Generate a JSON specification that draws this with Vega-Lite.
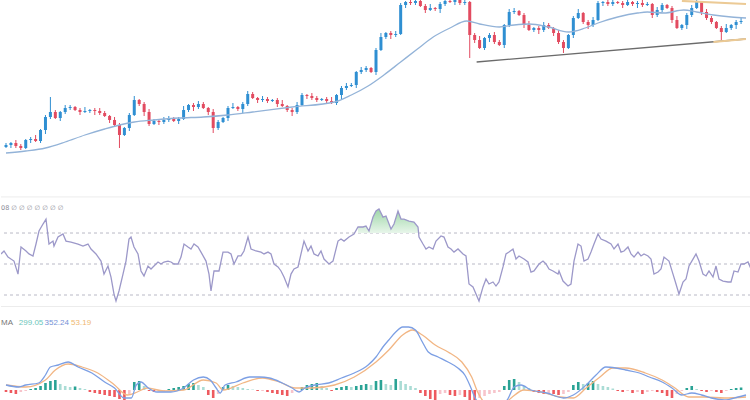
{
"$schema": "https://vega.github.io/schema/vega-lite/v6.json",
"padding": 0,
"spacing": 0,
"config": {"view": {"stroke": null}, "axis": {"disable": true}, "legend": {"disable": true}, "concat": {"spacing": 0}},
"datasets": {
"candles": [
{"t":0,"o":53,"h":57,"l":52,"c":55},{"t":1,"o":55,"h":58,"l":52,"c":57},{"t":2,"o":57,"h":60,"l":52,"c":54},{"t":3,"o":54,"h":56,"l":50,"c":52},{"t":4,"o":52,"h":61,"l":51,"c":60},
{"t":5,"o":60,"h":63,"l":57,"c":61},{"t":6,"o":61,"h":65,"l":58,"c":59},{"t":7,"o":59,"h":71,"l":57,"c":70},{"t":8,"o":70,"h":85,"l":66,"c":83},{"t":9,"o":83,"h":103,"l":81,"c":88},
{"t":10,"o":88,"h":90,"l":81,"c":82},{"t":11,"o":82,"h":89,"l":79,"c":88},{"t":12,"o":88,"h":95,"l":86,"c":92},{"t":13,"o":92,"h":95,"l":90,"c":93},{"t":14,"o":93,"h":94,"l":89,"c":90},
{"t":15,"o":90,"h":92,"l":85,"c":88},{"t":16,"o":88,"h":93,"l":87,"c":89},{"t":17,"o":89,"h":91,"l":87,"c":90},{"t":18,"o":90,"h":92,"l":85,"c":89},{"t":19,"o":89,"h":92,"l":85,"c":87},
{"t":20,"o":87,"h":89,"l":83,"c":84},{"t":21,"o":84,"h":85,"l":77,"c":80},{"t":22,"o":80,"h":83,"l":73,"c":75},{"t":23,"o":75,"h":77,"l":52,"c":65},{"t":24,"o":65,"h":73,"l":64,"c":72},
{"t":25,"o":72,"h":87,"l":69,"c":85},{"t":26,"o":85,"h":104,"l":84,"c":100},{"t":27,"o":100,"h":101,"l":94,"c":96},{"t":28,"o":96,"h":98,"l":84,"c":88},{"t":29,"o":88,"h":91,"l":74,"c":76},
{"t":30,"o":76,"h":81,"l":75,"c":79},{"t":31,"o":79,"h":80,"l":75,"c":78},{"t":32,"o":78,"h":83,"l":76,"c":80},{"t":33,"o":80,"h":84,"l":78,"c":82},{"t":34,"o":82,"h":83,"l":78,"c":79},
{"t":35,"o":79,"h":83,"l":76,"c":81},{"t":36,"o":81,"h":94,"l":80,"c":90},{"t":37,"o":90,"h":96,"l":88,"c":95},{"t":38,"o":95,"h":97,"l":89,"c":93},{"t":39,"o":93,"h":99,"l":91,"c":96},
{"t":40,"o":96,"h":98,"l":91,"c":92},{"t":41,"o":92,"h":93,"l":85,"c":88},{"t":42,"o":88,"h":91,"l":67,"c":72},{"t":43,"o":72,"h":80,"l":70,"c":78},{"t":44,"o":78,"h":83,"l":77,"c":82},
{"t":45,"o":82,"h":94,"l":79,"c":92},{"t":46,"o":92,"h":97,"l":91,"c":93},{"t":47,"o":93,"h":94,"l":89,"c":91},{"t":48,"o":91,"h":98,"l":87,"c":96},{"t":49,"o":96,"h":109,"l":94,"c":106},
{"t":50,"o":106,"h":108,"l":101,"c":102},{"t":51,"o":102,"h":103,"l":97,"c":100},{"t":52,"o":100,"h":104,"l":98,"c":101},{"t":53,"o":101,"h":103,"l":97,"c":99},{"t":54,"o":99,"h":101,"l":98,"c":100},
{"t":55,"o":100,"h":102,"l":93,"c":96},{"t":56,"o":96,"h":100,"l":93,"c":94},{"t":57,"o":94,"h":95,"l":88,"c":90},{"t":58,"o":90,"h":92,"l":84,"c":88},{"t":59,"o":88,"h":98,"l":86,"c":95},
{"t":60,"o":95,"h":107,"l":94,"c":105},{"t":61,"o":105,"h":106,"l":101,"c":104},{"t":62,"o":104,"h":107,"l":100,"c":102},{"t":63,"o":102,"h":104,"l":98,"c":100},{"t":64,"o":100,"h":102,"l":99,"c":101},
{"t":65,"o":101,"h":103,"l":96,"c":99},{"t":66,"o":99,"h":103,"l":96,"c":97},{"t":67,"o":97,"h":106,"l":95,"c":105},{"t":68,"o":105,"h":114,"l":101,"c":112},{"t":69,"o":112,"h":117,"l":110,"c":114},
{"t":70,"o":114,"h":117,"l":113,"c":115},{"t":71,"o":115,"h":129,"l":112,"c":128},{"t":72,"o":128,"h":133,"l":126,"c":130},{"t":73,"o":130,"h":134,"l":128,"c":132},{"t":74,"o":132,"h":133,"l":127,"c":128},
{"t":75,"o":128,"h":152,"l":125,"c":150},{"t":76,"o":150,"h":167,"l":149,"c":163},{"t":77,"o":163,"h":168,"l":161,"c":167},{"t":78,"o":167,"h":169,"l":161,"c":165},{"t":79,"o":165,"h":169,"l":163,"c":166},
{"t":80,"o":166,"h":197,"l":165,"c":195},{"t":81,"o":195,"h":199,"l":192,"c":198},{"t":82,"o":198,"h":201,"l":195,"c":197},{"t":83,"o":197,"h":201,"l":195,"c":199},{"t":84,"o":199,"h":200,"l":193,"c":194},
{"t":85,"o":194,"h":196,"l":187,"c":190},{"t":86,"o":190,"h":196,"l":189,"c":192},{"t":87,"o":192,"h":193,"l":189,"c":191},{"t":88,"o":191,"h":198,"l":187,"c":196},{"t":89,"o":196,"h":202,"l":194,"c":199},
{"t":90,"o":199,"h":201,"l":197,"c":198},{"t":91,"o":198,"h":201,"l":195,"c":200},{"t":92,"o":200,"h":203,"l":195,"c":197},{"t":93,"o":197,"h":200,"l":195,"c":198},{"t":94,"o":198,"h":199,"l":142,"c":165},
{"t":95,"o":165,"h":167,"l":157,"c":160},{"t":96,"o":160,"h":164,"l":151,"c":152},{"t":97,"o":152,"h":163,"l":150,"c":162},{"t":98,"o":162,"h":167,"l":158,"c":165},{"t":99,"o":165,"h":168,"l":156,"c":158},
{"t":100,"o":158,"h":160,"l":154,"c":155},{"t":101,"o":155,"h":176,"l":152,"c":175},{"t":102,"o":175,"h":191,"l":173,"c":188},{"t":103,"o":188,"h":192,"l":186,"c":189},{"t":104,"o":189,"h":190,"l":184,"c":185},
{"t":105,"o":185,"h":187,"l":172,"c":175},{"t":106,"o":175,"h":179,"l":169,"c":170},{"t":107,"o":170,"h":173,"l":168,"c":172},{"t":108,"o":172,"h":174,"l":166,"c":170},{"t":109,"o":170,"h":178,"l":168,"c":175},
{"t":110,"o":175,"h":177,"l":171,"c":172},{"t":111,"o":172,"h":173,"l":164,"c":167},{"t":112,"o":167,"h":170,"l":156,"c":158},{"t":113,"o":158,"h":160,"l":147,"c":152},{"t":114,"o":152,"h":166,"l":151,"c":165},
{"t":115,"o":165,"h":184,"l":162,"c":182},{"t":116,"o":182,"h":191,"l":181,"c":187},{"t":117,"o":187,"h":188,"l":176,"c":178},{"t":118,"o":178,"h":180,"l":171,"c":175},{"t":119,"o":175,"h":183,"l":173,"c":180},
{"t":120,"o":180,"h":199,"l":179,"c":197},{"t":121,"o":197,"h":199,"l":194,"c":198},{"t":122,"o":198,"h":201,"l":194,"c":196},{"t":123,"o":196,"h":200,"l":194,"c":198},{"t":124,"o":198,"h":199,"l":196,"c":197},
{"t":125,"o":197,"h":199,"l":192,"c":195},{"t":126,"o":195,"h":202,"l":194,"c":198},{"t":127,"o":198,"h":199,"l":194,"c":196},{"t":128,"o":196,"h":199,"l":192,"c":197},{"t":129,"o":197,"h":200,"l":193,"c":195},
{"t":130,"o":195,"h":198,"l":194,"c":196},{"t":131,"o":196,"h":197,"l":182,"c":185},{"t":132,"o":185,"h":193,"l":183,"c":190},{"t":133,"o":190,"h":197,"l":188,"c":195},{"t":134,"o":195,"h":196,"l":191,"c":192},
{"t":135,"o":192,"h":194,"l":177,"c":180},{"t":136,"o":180,"h":184,"l":171,"c":172},{"t":137,"o":172,"h":176,"l":170,"c":175},{"t":138,"o":175,"h":187,"l":171,"c":185},{"t":139,"o":185,"h":195,"l":183,"c":192},
{"t":140,"o":192,"h":200,"l":191,"c":198},{"t":141,"o":198,"h":199,"l":185,"c":188},{"t":142,"o":188,"h":191,"l":180,"c":182},{"t":143,"o":182,"h":184,"l":176,"c":178},{"t":144,"o":178,"h":179,"l":171,"c":172},
{"t":145,"o":172,"h":174,"l":160,"c":168},{"t":146,"o":168,"h":176,"l":167,"c":172},{"t":147,"o":172,"h":176,"l":170,"c":175},{"t":148,"o":175,"h":180,"l":171,"c":178},{"t":149,"o":178,"h":182,"l":176,"c":179}
],
"ma": [
{"t":0,"p":47},{"t":4,"p":49},{"t":8,"p":52},{"t":12,"p":58},{"t":16,"p":65},{"t":20,"p":71},{"t":23,"p":75},{"t":26,"p":78},{"t":30,"p":80},{"t":35,"p":82},{"t":40,"p":83},{"t":45,"p":85},{"t":50,"p":88},{"t":58,"p":93},{"t":66.6,"p":98},{"t":70,"p":105},{"t":73.4,"p":114},{"t":76.6,"p":125},{"t":80,"p":138},{"t":83.4,"p":151},{"t":86.6,"p":163},{"t":90,"p":172},{"t":93.4,"p":179},{"t":96,"p":176},{"t":100,"p":173},{"t":103,"p":175},{"t":106,"p":176},{"t":110,"p":173},{"t":114,"p":168},{"t":117.4,"p":172},{"t":120,"p":177},{"t":124,"p":183},{"t":128,"p":187},{"t":130,"p":188},{"t":133.4,"p":187},{"t":137.4,"p":190},{"t":140,"p":188},{"t":143.4,"p":185},{"t":147,"p":183},{"t":150,"p":182}
],
"trend": [
{"line":"support","t":95.4,"p":138},{"line":"support","t":150,"p":161},
{"line":"upper","t":137,"p":199},{"line":"upper","t":150,"p":196},
{"line":"lower","t":143.4,"p":158},{"line":"lower","t":150,"p":161}
],
"rsi": [
{"t":0,"v":56.5},{"t":0.6,"v":58.4},{"t":1.4,"v":54.5},{"t":2.6,"v":51.9},{"t":3.4,"v":43.5},{"t":4,"v":61.0},{"t":5,"v":58.4},{"t":5.6,"v":56.5},{"t":6.4,"v":55.2},{"t":7,"v":62.9},{"t":7.6,"v":71.3},{"t":8.4,"v":75.8},{"t":9,"v":79.0},{"t":9.6,"v":62.9},{"t":10.4,"v":64.8},{"t":10.6,"v":61.6},{"t":11.4,"v":67.4},{"t":12.4,"v":69.4},{"t":13,"v":64.8},{"t":14,"v":64.2},{"t":15.4,"v":62.9},{"t":16.4,"v":61.6},{"t":17.4,"v":62.9},{"t":18,"v":59.7},{"t":19,"v":56.5},{"t":20,"v":51.9},{"t":20.6,"v":43.5},{"t":21.4,"v":48.7},{"t":22,"v":41.6},{"t":22.6,"v":30.6},{"t":23,"v":26.1},{"t":23.6,"v":32.6},{"t":24.4,"v":43.5},{"t":25,"v":51.9},{"t":25.6,"v":66.1},{"t":26,"v":67.4},{"t":26.6,"v":61.0},{"t":27.4,"v":56.5},{"t":28,"v":45.5},{"t":28.6,"v":42.3},{"t":29.4,"v":48.7},{"t":30,"v":46.8},{"t":30.6,"v":48.7},{"t":31.4,"v":51.3},{"t":32,"v":50},{"t":32.6,"v":51.3},{"t":33.4,"v":51.9},{"t":34,"v":51.3},{"t":34.6,"v":50},{"t":35.4,"v":50},{"t":36,"v":54.5},{"t":36.6,"v":62.9},{"t":37.4,"v":61.0},{"t":38,"v":59.7},{"t":38.6,"v":62.9},{"t":39.4,"v":61.0},{"t":40,"v":57.7},{"t":41,"v":51.9},{"t":41.6,"v":43.5},{"t":42,"v":32.6},{"t":42.6,"v":45.5},{"t":43.6,"v":45.5},{"t":44.4,"v":57.7},{"t":45.4,"v":57.7},{"t":46,"v":56.5},{"t":46.6,"v":50},{"t":47.4,"v":55.2},{"t":48,"v":55.2},{"t":48.6,"v":58.4},{"t":49.4,"v":67.4},{"t":50,"v":59.7},{"t":51,"v":58.4},{"t":52,"v":57.7},{"t":52.6,"v":56.5},{"t":53.4,"v":57.7},{"t":54,"v":56.5},{"t":54.6,"v":50},{"t":55.4,"v":48.1},{"t":56,"v":45.5},{"t":56.6,"v":41.6},{"t":57.4,"v":35.2},{"t":58,"v":43.5},{"t":58.6,"v":46.8},{"t":59.4,"v":48.1},{"t":60,"v":56.5},{"t":60.6,"v":64.8},{"t":61.4,"v":58.4},{"t":62,"v":61.6},{"t":62.6,"v":56.5},{"t":63.4,"v":55.2},{"t":64,"v":58.4},{"t":64.6,"v":53.2},{"t":65.6,"v":50},{"t":66.4,"v":51.9},{"t":67.4,"v":64.8},{"t":68,"v":66.1},{"t":68.6,"v":64.8},{"t":69.6,"v":67.4},{"t":70.6,"v":69.4},{"t":71.4,"v":73.9},{"t":72.4,"v":73.9},{"t":73,"v":74.5},{"t":73.6,"v":71.3},{"t":74.4,"v":80.3},{"t":75,"v":84.2},{"t":75.6,"v":85.5},{"t":76.4,"v":80.3},{"t":77,"v":81.0},{"t":78,"v":72.6},{"t":78.6,"v":75.8},{"t":79.4,"v":84.2},{"t":80,"v":79.0},{"t":80.6,"v":79.0},{"t":81.6,"v":77.7},{"t":82.6,"v":77.1},{"t":83.4,"v":73.9},{"t":83.6,"v":67.4},{"t":84.4,"v":62.9},{"t":85,"v":59.7},{"t":85.6,"v":61.0},{"t":86.4,"v":59.7},{"t":87,"v":64.8},{"t":88,"v":68.1},{"t":88.6,"v":67.4},{"t":89.4,"v":61.0},{"t":90,"v":59.7},{"t":90.6,"v":57.7},{"t":91.4,"v":59.7},{"t":92.4,"v":56.5},{"t":93,"v":55.2},{"t":93.6,"v":37.1},{"t":94.4,"v":35.2},{"t":95,"v":30.6},{"t":95.6,"v":26.1},{"t":96.4,"v":35.2},{"t":97,"v":40.3},{"t":97.6,"v":37.1},{"t":98.4,"v":38.4},{"t":99,"v":35.8},{"t":99.6,"v":38.4},{"t":100.4,"v":48.1},{"t":101,"v":56.5},{"t":101.6,"v":57.7},{"t":102.4,"v":59.7},{"t":103,"v":53.2},{"t":103.6,"v":55.2},{"t":104.6,"v":53.2},{"t":105.4,"v":51.3},{"t":106,"v":44.8},{"t":106.6,"v":45.5},{"t":107.6,"v":50},{"t":108.4,"v":51.9},{"t":109,"v":50},{"t":109.6,"v":46.8},{"t":110.4,"v":45.5},{"t":111.4,"v":43.5},{"t":111.6,"v":45.5},{"t":112.4,"v":39.0},{"t":113.4,"v":35.8},{"t":114,"v":37.1},{"t":114.6,"v":51.9},{"t":115.4,"v":62.9},{"t":116,"v":61.6},{"t":116.6,"v":51.9},{"t":117.4,"v":53.2},{"t":118,"v":57.7},{"t":118.6,"v":62.9},{"t":119.4,"v":69.4},{"t":120,"v":66.1},{"t":121,"v":64.8},{"t":122,"v":62.9},{"t":122.6,"v":59.7},{"t":123.4,"v":62.9},{"t":124,"v":57.7},{"t":124.6,"v":58.4},{"t":125.4,"v":61.0},{"t":126,"v":56.5},{"t":126.6,"v":54.5},{"t":127.4,"v":57.7},{"t":128,"v":55.2},{"t":128.6,"v":56.5},{"t":129.4,"v":55.2},{"t":130,"v":53.2},{"t":130.6,"v":43.5},{"t":131.4,"v":44.8},{"t":132,"v":46.8},{"t":132.6,"v":54.5},{"t":133.6,"v":51.9},{"t":134.4,"v":43.5},{"t":135,"v":37.1},{"t":135.6,"v":30.6},{"t":136.4,"v":38.4},{"t":137,"v":40.3},{"t":137.6,"v":48.7},{"t":138.4,"v":53.2},{"t":139,"v":56.5},{"t":139.6,"v":51.9},{"t":140.4,"v":43.5},{"t":141,"v":42.3},{"t":141.6,"v":45.5},{"t":142.4,"v":41.6},{"t":143,"v":48.7},{"t":143.6,"v":40.3},{"t":144.4,"v":39.0},{"t":145.4,"v":38.4},{"t":146,"v":38.4},{"t":146.6,"v":45.5},{"t":147.4,"v":44.8},{"t":148,"v":50},{"t":148.6,"v":50},{"t":149.4,"v":51.3},{"t":150,"v":46.8}
],
"macdl": [
{"s":"MACD","t":0,"v":50},{"s":"MACD","t":2.6,"v":30},{"s":"MACD","t":4,"v":50},{"s":"MACD","t":6.6,"v":70},{"s":"MACD","t":8,"v":150},{"s":"MACD","t":9,"v":230},{"s":"MACD","t":10.6,"v":250},{"s":"MACD","t":12.6,"v":280},{"s":"MACD","t":14.6,"v":230},{"s":"MACD","t":17.4,"v":170},{"s":"MACD","t":20,"v":80},{"s":"MACD","t":22,"v":20},{"s":"MACD","t":24,"v":-80},{"s":"MACD","t":25.4,"v":-80},{"s":"MACD","t":26.4,"v":50},{"s":"MACD","t":27.4,"v":80},{"s":"MACD","t":28.6,"v":30},{"s":"MACD","t":30.6,"v":-20},{"s":"MACD","t":33.4,"v":-20},{"s":"MACD","t":36,"v":20},{"s":"MACD","t":38,"v":100},{"s":"MACD","t":40,"v":130},{"s":"MACD","t":41.4,"v":100},{"s":"MACD","t":42.6,"v":20},{"s":"MACD","t":43.4,"v":-30},{"s":"MACD","t":44.4,"v":50},{"s":"MACD","t":46.6,"v":80},{"s":"MACD","t":49.4,"v":130},{"s":"MACD","t":51.4,"v":130},{"s":"MACD","t":53.4,"v":120},{"s":"MACD","t":56,"v":70},{"s":"MACD","t":58,"v":20},{"s":"MACD","t":59.4,"v":-20},{"s":"MACD","t":60.6,"v":20},{"s":"MACD","t":62.6,"v":50},{"s":"MACD","t":65.4,"v":70},{"s":"MACD","t":68,"v":120},{"s":"MACD","t":70.6,"v":170},{"s":"MACD","t":73.4,"v":250},{"s":"MACD","t":75,"v":330},{"s":"MACD","t":76.4,"v":430},{"s":"MACD","t":77.6,"v":500},{"s":"MACD","t":79,"v":580},{"s":"MACD","t":80.4,"v":630},{"s":"MACD","t":81.6,"v":630},{"s":"MACD","t":83,"v":600},{"s":"MACD","t":84.4,"v":480},{"s":"MACD","t":85.6,"v":380},{"s":"MACD","t":87.6,"v":330},{"s":"MACD","t":89.6,"v":280},{"s":"MACD","t":91.6,"v":220},{"s":"MACD","t":93,"v":150},{"s":"MACD","t":94,"v":50},{"s":"MACD","t":95,"v":-70},{"s":"MACD","t":95.6,"v":-120},{"s":"MACD","t":98,"v":-200},{"s":"MACD","t":100.4,"v":-150},{"s":"MACD","t":101.6,"v":-100},{"s":"MACD","t":103,"v":30},{"s":"MACD","t":104.4,"v":50},{"s":"MACD","t":106.4,"v":0},{"s":"MACD","t":109.6,"v":-30},{"s":"MACD","t":113,"v":-80},{"s":"MACD","t":115,"v":-50},{"s":"MACD","t":117.6,"v":50},{"s":"MACD","t":119.6,"v":150},{"s":"MACD","t":121.6,"v":230},{"s":"MACD","t":123.6,"v":220},{"s":"MACD","t":125.6,"v":200},{"s":"MACD","t":128.4,"v":170},{"s":"MACD","t":130.4,"v":130},{"s":"MACD","t":133,"v":80},{"s":"MACD","t":135,"v":20},{"s":"MACD","t":137,"v":-50},{"s":"MACD","t":139,"v":-30},{"s":"MACD","t":141,"v":-50},{"s":"MACD","t":143,"v":-80},{"s":"MACD","t":145.6,"v":-100},{"s":"MACD","t":148.4,"v":-70},{"s":"MACD","t":150,"v":-50},
{"s":"Signal","t":0,"v":50},{"s":"Signal","t":4,"v":30},{"s":"Signal","t":8,"v":100},{"s":"Signal","t":10,"v":200},{"s":"Signal","t":12.6,"v":260},{"s":"Signal","t":15.4,"v":230},{"s":"Signal","t":18.6,"v":170},{"s":"Signal","t":22,"v":50},{"s":"Signal","t":24.6,"v":-50},{"s":"Signal","t":26.6,"v":-20},{"s":"Signal","t":28.6,"v":20},{"s":"Signal","t":32,"v":-10},{"s":"Signal","t":36,"v":0},{"s":"Signal","t":40,"v":100},{"s":"Signal","t":42.6,"v":70},{"s":"Signal","t":44,"v":0},{"s":"Signal","t":48,"v":70},{"s":"Signal","t":52,"v":120},{"s":"Signal","t":55.4,"v":80},{"s":"Signal","t":58.6,"v":20},{"s":"Signal","t":62,"v":20},{"s":"Signal","t":66.6,"v":50},{"s":"Signal","t":70.6,"v":130},{"s":"Signal","t":75,"v":280},{"s":"Signal","t":77.6,"v":400},{"s":"Signal","t":80.4,"v":550},{"s":"Signal","t":82.4,"v":600},{"s":"Signal","t":84.4,"v":550},{"s":"Signal","t":87,"v":450},{"s":"Signal","t":89.6,"v":380},{"s":"Signal","t":92.4,"v":280},{"s":"Signal","t":94.4,"v":130},{"s":"Signal","t":95.6,"v":-20},{"s":"Signal","t":97.6,"v":-150},{"s":"Signal","t":100,"v":-180},{"s":"Signal","t":102.4,"v":-80},{"s":"Signal","t":105,"v":0},{"s":"Signal","t":108.4,"v":-20},{"s":"Signal","t":112.4,"v":-70},{"s":"Signal","t":115,"v":-80},{"s":"Signal","t":117.6,"v":20},{"s":"Signal","t":120.4,"v":130},{"s":"Signal","t":123,"v":220},{"s":"Signal","t":125.6,"v":220},{"s":"Signal","t":129.6,"v":170},{"s":"Signal","t":133,"v":100},{"s":"Signal","t":135.6,"v":20},{"s":"Signal","t":138.4,"v":-70},{"s":"Signal","t":141.6,"v":-70},{"s":"Signal","t":145.6,"v":-80},{"s":"Signal","t":150,"v":-70}
],
"hist": [
{"t":0,"h":-20},{"t":1,"h":-30},{"t":2,"h":-40},{"t":3,"h":-20},{"t":4,"h":-10},{"t":5,"h":10},{"t":6,"h":20},{"t":7,"h":40},{"t":8,"h":70},{"t":9,"h":90},
{"t":10,"h":100},{"t":11,"h":60},{"t":12,"h":40},{"t":13,"h":30},{"t":14,"h":35},{"t":15,"h":20},{"t":16,"h":10},{"t":17,"h":-20},{"t":18,"h":-30},{"t":19,"h":-40},
{"t":20,"h":-50},{"t":21,"h":-60},{"t":22,"h":-70},{"t":23,"h":-90},{"t":24,"h":-100},{"t":25,"h":-40},{"t":26,"h":80},{"t":27,"h":90},{"t":28,"h":40},{"t":29,"h":-10},
{"t":30,"h":-20},{"t":31,"h":-15},{"t":32,"h":-10},{"t":33,"h":10},{"t":34,"h":20},{"t":35,"h":30},{"t":36,"h":40},{"t":37,"h":60},{"t":38,"h":70},{"t":39,"h":50},
{"t":40,"h":30},{"t":41,"h":-50},{"t":42,"h":-80},{"t":43,"h":-40},{"t":44,"h":30},{"t":45,"h":50},{"t":46,"h":40},{"t":47,"h":30},{"t":48,"h":20},{"t":49,"h":10},
{"t":50,"h":5},{"t":51,"h":-10},{"t":52,"h":-10},{"t":53,"h":-20},{"t":54,"h":-30},{"t":55,"h":-40},{"t":56,"h":-50},{"t":57,"h":-60},{"t":58,"h":-30},{"t":59,"h":-10},
{"t":60,"h":30},{"t":61,"h":50},{"t":62,"h":60},{"t":63,"h":70},{"t":64,"h":40},{"t":65,"h":20},{"t":66,"h":-10},{"t":67,"h":20},{"t":68,"h":30},{"t":69,"h":40},
{"t":70,"h":30},{"t":71,"h":40},{"t":72,"h":50},{"t":73,"h":60},{"t":74,"h":50},{"t":75,"h":90},{"t":76,"h":100},{"t":77,"h":60},{"t":78,"h":50},{"t":79,"h":110},
{"t":80,"h":90},{"t":81,"h":60},{"t":82,"h":40},{"t":83,"h":20},{"t":84,"h":-30},{"t":85,"h":-60},{"t":86,"h":-90},{"t":87,"h":-100},{"t":88,"h":-40},{"t":89,"h":-30},
{"t":90,"h":-50},{"t":91,"h":-60},{"t":92,"h":-50},{"t":93,"h":-70},{"t":94,"h":-100},{"t":95,"h":-120},{"t":96,"h":-80},{"t":97,"h":-60},{"t":98,"h":-40},{"t":99,"h":-30},
{"t":100,"h":-20},{"t":101,"h":40},{"t":102,"h":100},{"t":103,"h":110},{"t":104,"h":80},{"t":105,"h":40},{"t":106,"h":20},{"t":107,"h":-20},{"t":108,"h":-30},{"t":109,"h":-40},
{"t":110,"h":-30},{"t":111,"h":-40},{"t":112,"h":-50},{"t":113,"h":-40},{"t":114,"h":-20},{"t":115,"h":50},{"t":116,"h":80},{"t":117,"h":60},{"t":118,"h":70},{"t":119,"h":90},
{"t":120,"h":60},{"t":121,"h":40},{"t":122,"h":30},{"t":123,"h":15},{"t":124,"h":-10},{"t":125,"h":-20},{"t":126,"h":-10},{"t":127,"h":-30},{"t":128,"h":-20},{"t":129,"h":-40},
{"t":130,"h":-20},{"t":131,"h":-10},{"t":132,"h":-20},{"t":133,"h":-30},{"t":134,"h":-60},{"t":135,"h":-80},{"t":136,"h":-40},{"t":137,"h":-10},{"t":138,"h":20},{"t":139,"h":40},
{"t":140,"h":10},{"t":141,"h":-10},{"t":142,"h":-20},{"t":143,"h":-10},{"t":144,"h":-20},{"t":145,"h":-30},{"t":146,"h":-10},{"t":147,"h":10},{"t":148,"h":20},{"t":149,"h":25}
]
},
"vconcat": [
{
"width": 750, "height": 196,
"layer": [
{"data": {"name": "candles"}, "mark": {"type": "rule", "strokeWidth": 1, "clip": true},
 "encoding": {
  "x": {"field": "t", "type": "quantitative", "scale": {"domain": [0, 150], "nice": false, "zero": false}},
  "y": {"field": "l", "type": "quantitative", "scale": {"domain": [4, 200], "nice": false, "zero": false}},
  "y2": {"field": "h"},
  "color": {"condition": {"test": "datum.c >= datum.o", "value": "#2f8fd2"}, "value": "#e24b60"}}},
{"data": {"name": "candles"}, "mark": {"type": "bar", "width": 3, "clip": true},
 "encoding": {
  "x": {"field": "t", "type": "quantitative"},
  "y": {"field": "o", "type": "quantitative"},
  "y2": {"field": "c"},
  "color": {"condition": {"test": "datum.c >= datum.o", "value": "#2f8fd2"}, "value": "#e24b60"}}},
{"data": {"name": "ma"}, "mark": {"type": "line", "color": "#93b3d8", "strokeWidth": 1.3, "interpolate": "monotone", "clip": true},
 "encoding": {"x": {"field": "t", "type": "quantitative"}, "y": {"field": "p", "type": "quantitative"}}},
{"data": {"name": "trend"}, "transform": [{"filter": "datum.line == 'support'"}],
 "mark": {"type": "line", "clip": true, "color": "#6b6b6b", "strokeWidth": 1.3},
 "encoding": {"x": {"field": "t", "type": "quantitative"}, "y": {"field": "p", "type": "quantitative"}}},
{"data": {"name": "trend"}, "transform": [{"filter": "datum.line != 'support'"}],
 "mark": {"type": "line", "clip": true, "color": "#ecca95", "strokeWidth": 2.2},
 "encoding": {"x": {"field": "t", "type": "quantitative"}, "y": {"field": "p", "type": "quantitative"}, "detail": {"field": "line"}}}
]
},
{
"width": 750, "height": 110,
"layer": [
{"data": {"values": [{}]}, "mark": {"type": "rule", "color": "#ececec", "strokeWidth": 1},
 "encoding": {"y": {"datum": 93.3, "type": "quantitative", "scale": {"domain": [22.9, 93.9], "nice": false, "zero": false}}}},
{"data": {"values": [{"lv": 70}, {"lv": 50}, {"lv": 30}]}, "mark": {"type": "rule", "color": "#b9b9c6", "strokeDash": [3, 3], "strokeWidth": 1},
 "encoding": {"y": {"field": "lv", "type": "quantitative"}}},
{"data": {"name": "rsi"}, "transform": [{"filter": "datum.t >= 71 && datum.t <= 83.6"}],
 "mark": {"type": "area", "clip": true, "color": {"gradient": "linear", "x1": 0, "y1": 1, "x2": 0, "y2": 0, "stops": [{"offset": 0, "color": "#f4fbf5"}, {"offset": 1, "color": "#9ed6a8"}]}},
 "encoding": {"x": {"field": "t", "type": "quantitative", "scale": {"domain": [0, 150], "nice": false, "zero": false}}, "y": {"field": "v", "type": "quantitative"}, "y2": {"datum": 70}}},
{"data": {"name": "rsi"}, "mark": {"type": "line", "color": "#9c98c9", "strokeWidth": 1.3, "clip": true},
 "encoding": {"x": {"field": "t", "type": "quantitative"}, "y": {"field": "v", "type": "quantitative"}}},
{"data": {"values": [{}]}, "mark": {"type": "text", "align": "left", "baseline": "middle", "font": "DejaVu Sans", "fontSize": 6.5, "color": "#8a8a96"},
 "encoding": {"x": {"datum": 0, "type": "quantitative"}, "y": {"datum": 86.3, "type": "quantitative"}, "text": {"value": "08 ∅ ∅ ∅ ∅ ∅ ∅ ∅"}}}
]
},
{
"width": 750, "height": 94,
"layer": [
{"data": {"values": [{}]}, "mark": {"type": "rule", "color": "#ececec", "strokeWidth": 1},
 "encoding": {"y": {"datum": 835, "type": "quantitative", "scale": {"domain": [-100, 840], "nice": false, "zero": false}}}},
{"data": {"name": "hist"},
 "transform": [{"window": [{"op": "lag", "field": "h", "as": "prev"}], "sort": [{"field": "t"}]}],
 "mark": {"type": "bar", "width": 2.6, "clip": true},
 "encoding": {
  "x": {"field": "t", "type": "quantitative", "scale": {"domain": [0, 150], "nice": false, "zero": false}},
  "y": {"field": "h", "type": "quantitative"},
  "y2": {"datum": 0},
  "color": {"condition": [
    {"test": "datum.h >= 0 && datum.h >= datum.prev", "value": "#2aa395"},
    {"test": "datum.h >= 0", "value": "#aadcd5"},
    {"test": "datum.h < datum.prev", "value": "#ee5a5f"}],
   "value": "#f7c4cb"}}},
{"data": {"name": "macdl"}, "transform": [{"filter": "datum.s == 'Signal'"}],
 "mark": {"type": "line", "strokeWidth": 1.3, "interpolate": "monotone", "clip": true, "color": "#f2b684"},
 "encoding": {"x": {"field": "t", "type": "quantitative"}, "y": {"field": "v", "type": "quantitative"}}},
{"data": {"name": "macdl"}, "transform": [{"filter": "datum.s == 'MACD'"}],
 "mark": {"type": "line", "strokeWidth": 1.3, "interpolate": "monotone", "clip": true, "color": "#7c9fe4"},
 "encoding": {"x": {"field": "t", "type": "quantitative"}, "y": {"field": "v", "type": "quantitative"}}},
{"data": {"values": [{}]}, "mark": {"type": "text", "align": "left", "baseline": "middle", "font": "Liberation Sans", "fontSize": 8, "color": "#777777"},
 "encoding": {"x": {"datum": -1, "type": "quantitative"}, "y": {"datum": 670, "type": "quantitative"}, "text": {"value": "MA"}}},
{"data": {"values": [{}]}, "mark": {"type": "text", "align": "left", "baseline": "middle", "font": "Liberation Sans", "fontSize": 8, "color": "#6cc6ba"},
 "encoding": {"x": {"datum": 2.6, "type": "quantitative"}, "y": {"datum": 670, "type": "quantitative"}, "text": {"value": "299.05"}}},
{"data": {"values": [{}]}, "mark": {"type": "text", "align": "left", "baseline": "middle", "font": "Liberation Sans", "fontSize": 8, "color": "#7491d6"},
 "encoding": {"x": {"datum": 7.8, "type": "quantitative"}, "y": {"datum": 670, "type": "quantitative"}, "text": {"value": "352.24"}}},
{"data": {"values": [{}]}, "mark": {"type": "text", "align": "left", "baseline": "middle", "font": "Liberation Sans", "fontSize": 8, "color": "#efb870"},
 "encoding": {"x": {"datum": 13.2, "type": "quantitative"}, "y": {"datum": 670, "type": "quantitative"}, "text": {"value": "53.19"}}}
]
}
]
}
